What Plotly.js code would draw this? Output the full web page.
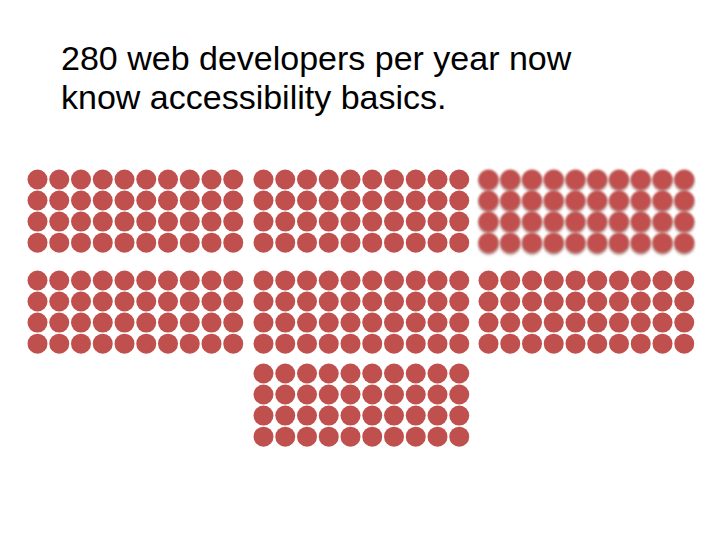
<!DOCTYPE html>
<html>
<head>
<meta charset="utf-8">
<script src="https://cdn.plot.ly/plotly-3.0.1.min.js"></script>
<style>html,body{margin:0;padding:0;background:#fff;}#chart{width:720px;height:540px;}</style>
</head>
<body>
<div id="chart"></div>
<script>
// Data: 280 developers shown as 7 groups of 40 (10 x 4) dots
const titleLines = ["280 web developers per year now", "know accessibility basics."];
const totalDevelopers = 280;
const groupSize = 40;
const groupCols = 10;
const groupRows = 4;
const groupColumn = [0, 1, 2, 0, 1, 2, 1];   // which column each group sits in
const groupRowIdx = [0, 0, 0, 1, 1, 1, 2];   // which row each group sits in
const groupBlurred = [false, false, true, false, false, false, false];

// Layout constants (pixel space)
const colOrigins = [37.5, 263.5, 488.5];
const rowOrigins = [179.5, 280.5, 373.5];
const dx = 21.75, dy = 21.05;
const dotColor = '#c0504d';

const traces = [];
const nGroups = totalDevelopers / groupSize;
for (let g = 0; g < nGroups; g++) {
  const xs = [], ys = [];
  for (let i = 0; i < groupSize; i++) {
    const c = i % groupCols, r = Math.floor(i / groupCols);
    xs.push(colOrigins[groupColumn[g]] + c * dx);
    ys.push(rowOrigins[groupRowIdx[g]] + r * dy);
  }
  traces.push({
    type: 'scatter', mode: 'markers', x: xs, y: ys,
    marker: {size: 20, color: dotColor, line: {width: 0}},
    hoverinfo: 'skip', showlegend: false
  });
}

const layout = {
  width: 720, height: 540,
  margin: {l: 0, r: 0, t: 0, b: 0},
  paper_bgcolor: '#fff', plot_bgcolor: '#fff',
  xaxis: {range: [0, 720], visible: false, fixedrange: true},
  yaxis: {range: [540, 0], visible: false, fixedrange: true},
  showlegend: false,
  annotations: titleLines.map((t, i) => ({
    text: t, x: 59, y: 58 + i * 39, xref: 'x', yref: 'y',
    xanchor: 'left', yanchor: 'middle', showarrow: false,
    font: {family: 'Liberation Sans, Arial, sans-serif', size: 34, color: '#000'}
  }))
};

Plotly.newPlot('chart', traces, layout, {staticPlot: true, displayModeBar: false}).then(gd => {
  const NS = 'http://www.w3.org/2000/svg';
  const svg = gd.querySelector('svg.main-svg');
  let defs = svg.querySelector('defs');
  if (!defs) { defs = document.createElementNS(NS, 'defs'); svg.insertBefore(defs, svg.firstChild); }
  const f = document.createElementNS(NS, 'filter');
  f.setAttribute('id', 'softblur');
  f.setAttribute('x', '-10%'); f.setAttribute('y', '-10%');
  f.setAttribute('width', '120%'); f.setAttribute('height', '125%');
  f.innerHTML =
    '<feGaussianBlur in="SourceAlpha" stdDeviation="1.6" result="sb"/>' +
    '<feOffset in="sb" dy="1.6" result="so"/>' +
    '<feFlood flood-color="#6e3533" flood-opacity="0.55"/>' +
    '<feComposite in2="so" operator="in" result="shadow"/>' +
    '<feGaussianBlur in="SourceGraphic" stdDeviation="0.9" result="main"/>' +
    '<feMerge><feMergeNode in="shadow"/><feMergeNode in="main"/></feMerge>';
  defs.appendChild(f);
  const groups = gd.querySelectorAll('.scatterlayer .trace');
  groupBlurred.forEach((b, i) => { if (b && groups[i]) groups[i].setAttribute('filter', 'url(#softblur)'); });
});
</script>
</body>
</html>
